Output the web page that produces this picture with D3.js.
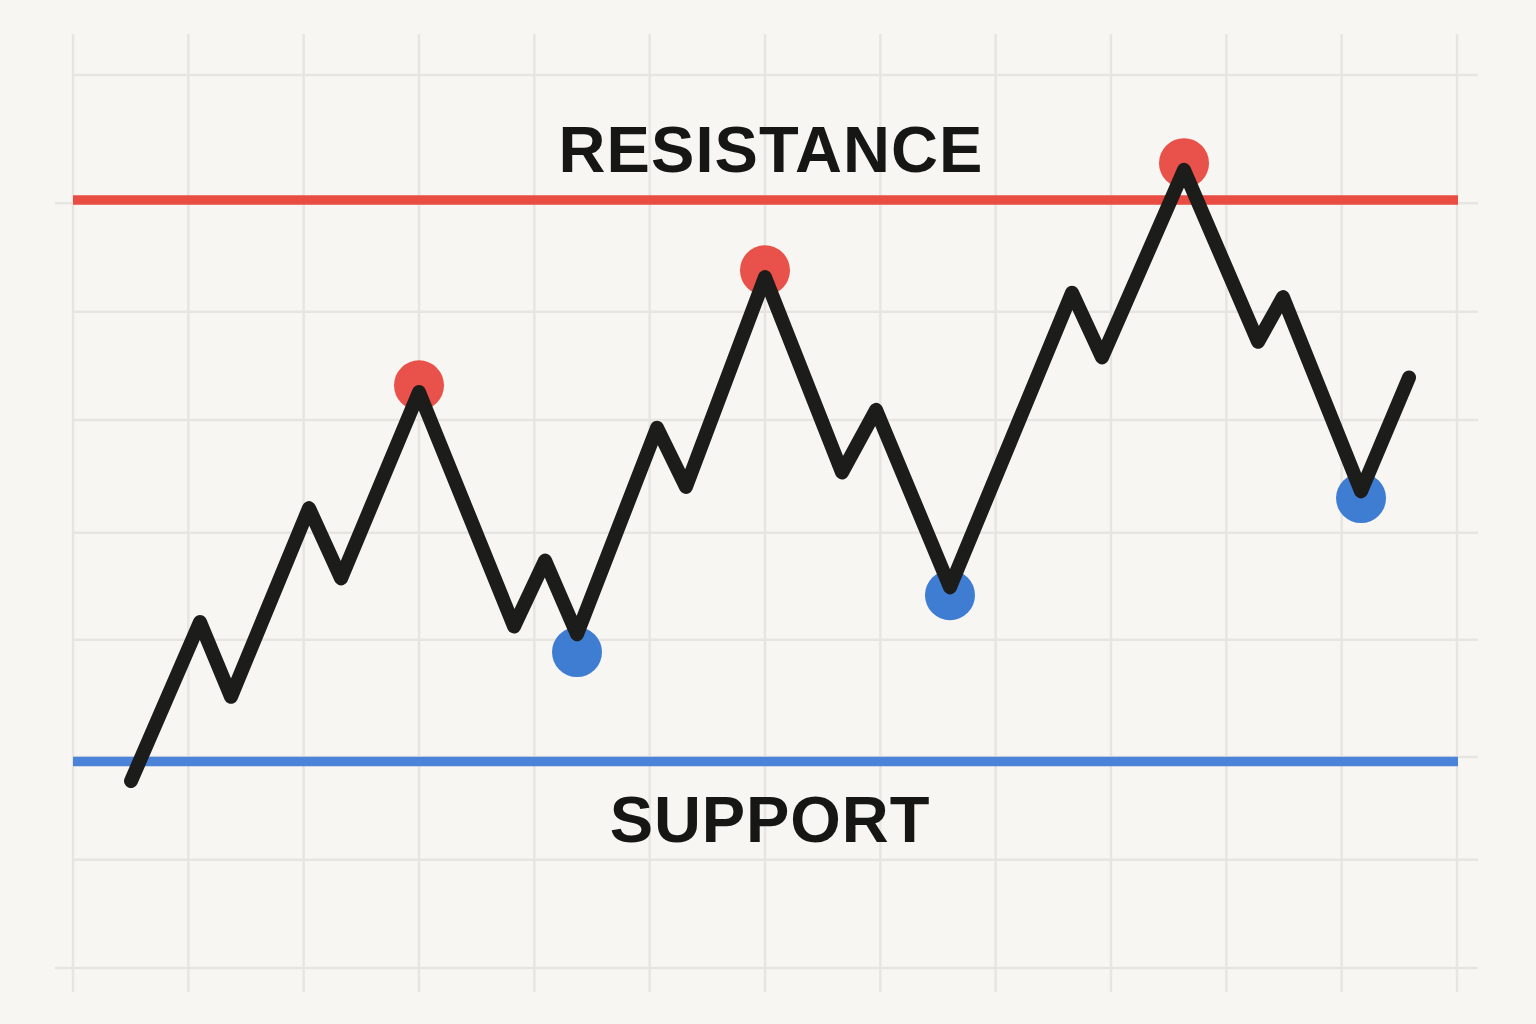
<!DOCTYPE html>
<html>
<head>
<meta charset="utf-8">
<script src="https://cdn.jsdelivr.net/npm/d3@7"></script>
<style>
  html, body { margin: 0; padding: 0; background: #f8f6f2; }
  svg { display: block; }
</style>
</head>
<body>
<svg id="chart" width="1536" height="1024"></svg>
<script>
// ---- data ----
const pointX = [0.503, 1.101, 1.370, 2.046, 2.324, 3.000, 3.824, 4.093, 4.370, 5.064, 5.315,
                6.000, 6.668, 6.963, 7.604, 8.662, 8.922, 9.633, 10.275, 10.491, 11.168, 11.584];
const pointPrice = [16.75, 31.0, 24.3, 41.2, 34.9, 51.6, 30.6, 36.5, 29.9, 48.4, 43.1,
                    61.9, 44.4, 50.0, 34.1, 60.5, 54.7, 71.5, 56.1, 60.1, 42.7, 52.9];
const highX = [3.000, 6.000, 9.633];
const highPrice = [52.2, 62.5, 72.1];
const lowX = [4.370, 7.604, 11.168];
const lowPrice = [28.3, 33.4, 42.1];
const resistanceLevel = 68.8;
const supportLevel = 18.5;
const gridXTicks = [0, 1, 2, 3, 4, 5, 6, 7, 8, 9, 10, 11, 12];
const gridYTicks = [80, 68.5, 58.8, 49.1, 39.0, 29.4, 18.9, 9.7, 0];
const labelTop = "RESISTANCE";
const labelBottom = "SUPPORT";

// ---- scales ----
const svg = d3.select("#chart");
const x = d3.scaleLinear().domain([0, 12]).range([73, 1457]);
const y = d3.scaleLinear().domain([0, 80]).range([968, 75]);

svg.append("rect").attr("width", 1536).attr("height", 1024).attr("fill", "#f8f6f2");

// ---- grid ----
const grid = svg.append("g").attr("stroke", "#e7e5e1").attr("stroke-width", 2.5);
grid.selectAll("line.v").data(gridXTicks).join("line")
  .attr("class", "v")
  .attr("x1", d => x(d)).attr("x2", d => x(d))
  .attr("y1", 34).attr("y2", 992);
grid.selectAll("line.h").data(gridYTicks).join("line")
  .attr("class", "h")
  .attr("x1", (d, i) => (i === 1 || i === gridYTicks.length - 1) ? 55 : x(0))
  .attr("x2", 1478)
  .attr("y1", d => y(d)).attr("y2", d => y(d));

// ---- levels ----
svg.append("line")
  .attr("x1", x(0)).attr("x2", x(12) + 1)
  .attr("y1", y(resistanceLevel)).attr("y2", y(resistanceLevel))
  .attr("stroke", "#e84c43").attr("stroke-width", 9.5);
svg.append("line")
  .attr("x1", x(0)).attr("x2", x(12) + 1)
  .attr("y1", y(supportLevel)).attr("y2", y(supportLevel))
  .attr("stroke", "#4a83d8").attr("stroke-width", 9.5);

// ---- labels ----
const labelFont = "'Liberation Sans', Arial, sans-serif";
svg.append("text")
  .attr("x", 771).attr("y", 172)
  .attr("text-anchor", "middle")
  .attr("font-family", labelFont)
  .attr("font-weight", "bold").attr("font-size", 65)
  .attr("letter-spacing", 1.1)
  .attr("fill", "#161614")
  .text(labelTop);
svg.append("text")
  .attr("x", 770).attr("y", 842)
  .attr("text-anchor", "middle")
  .attr("font-family", labelFont)
  .attr("font-weight", "bold").attr("font-size", 65)
  .attr("letter-spacing", 0.9)
  .attr("fill", "#161614")
  .text(labelBottom);

// ---- pivot markers ----
svg.selectAll("circle.high").data(highX).join("circle")
  .attr("class", "high")
  .attr("cx", d => x(d)).attr("cy", (d, i) => y(highPrice[i]))
  .attr("r", 25).attr("fill", "#e8524a");
svg.selectAll("circle.low").data(lowX).join("circle")
  .attr("class", "low")
  .attr("cx", d => x(d)).attr("cy", (d, i) => y(lowPrice[i]))
  .attr("r", 25).attr("fill", "#3f7dd2");

// ---- price line ----
const line = d3.line().x(d => x(d[0])).y(d => y(d[1]));
svg.append("path")
  .datum(pointX.map((d, i) => [d, pointPrice[i]]))
  .attr("d", line)
  .attr("fill", "none")
  .attr("stroke", "#1c1c1a")
  .attr("stroke-width", 14)
  .attr("stroke-linecap", "round")
  .attr("stroke-linejoin", "round");
</script>
</body>
</html>
